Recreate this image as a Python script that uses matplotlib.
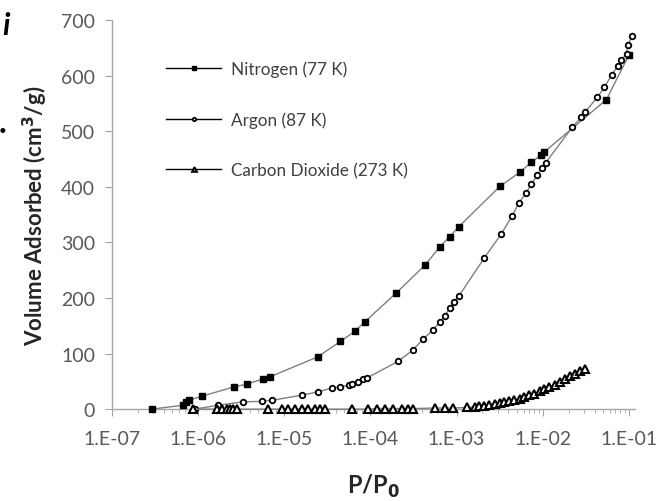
import numpy as np
import matplotlib.pyplot as plt
from matplotlib.ticker import LogLocator, FixedLocator

plt.rcParams['font.family'] = ['Lato', 'DejaVu Sans']

# Nitrogen (77 K)
n2_p = [2.9e-7, 6.7e-7, 7.2e-7, 7.8e-7, 1.1e-6, 2.6e-6, 3.7e-6, 5.6e-6, 6.8e-6,
        2.45e-5, 4.5e-5, 6.6e-5, 8.6e-5, 2.0e-4, 4.3e-4, 6.4e-4, 8.3e-4, 1.06e-3,
        3.2e-3, 5.4e-3, 7.4e-3, 9.5e-3, 1.03e-2, 5.5e-2, 1.0e-1]
n2_v = [0, 7, 13, 16, 23, 40, 45, 54, 58,
        94, 122, 140, 157, 209, 259, 292, 310, 328,
        401, 426, 444, 457, 462, 557, 637]

# Argon (87 K)
ar_p = [9.2e-7, 1.7e-6, 3.3e-6, 5.5e-6, 7.2e-6, 1.6e-5, 2.45e-5, 3.6e-5, 4.4e-5,
        5.6e-5, 6.2e-5, 7.1e-5, 8.2e-5, 9.1e-5, 2.1e-4, 3.1e-4, 4.1e-4, 5.3e-4,
        6.4e-4, 7.3e-4, 8.3e-4, 9.3e-4, 1.06e-3, 2.1e-3, 3.3e-3, 4.4e-3, 5.3e-3,
        6.4e-3, 7.4e-3, 8.7e-3, 9.7e-3, 1.08e-2, 2.2e-2, 2.8e-2, 3.1e-2, 4.3e-2,
        5.2e-2, 6.3e-2, 7.4e-2, 8.2e-2, 9.4e-2, 9.7e-2, 1.1e-1]
ar_v = [0, 7, 13, 14, 16, 25, 31, 38, 40,
        43, 45, 49, 54, 56, 86, 106, 126, 142,
        157, 167, 182, 193, 203, 272, 315, 347, 371,
        389, 405, 421, 434, 443, 507, 525, 534, 561,
        579, 601, 617, 628, 639, 655, 672]

# Carbon Dioxide (273 K)
co2_p = [8.7e-7, 1.65e-6, 1.89e-6, 2.16e-6, 2.34e-6, 2.53e-6, 2.82e-6, 6.5e-6,
         9.4e-6, 1.1e-5, 1.33e-5, 1.6e-5, 1.88e-5, 2.26e-5, 2.59e-5, 2.96e-5,
         6.1e-5, 9.3e-5, 1.19e-4, 1.47e-4, 1.82e-4, 2.31e-4, 2.72e-4, 3.1e-4,
         5.6e-4, 7.3e-4, 9.0e-4, 1.31e-3, 1.63e-3, 1.8e-3, 2.1e-3, 2.4e-3, 2.8e-3,
         3.2e-3, 3.6e-3, 4.1e-3, 4.7e-3, 5.4e-3, 6.1e-3, 7.0e-3, 8.0e-3, 9.2e-3,
         1.05e-2, 1.2e-2, 1.4e-2, 1.6e-2, 1.8e-2, 2.1e-2, 2.4e-2, 2.7e-2, 3.1e-2]
co2_v = [0, 0, 0, 0, 0, 0, 0, 0,
         0, 0, 0, 0, 0, 0, 0, 0,
         0, 0, 1, 1, 1, 1, 1, 1,
         2, 2, 2, 3, 4, 5, 6, 8, 9,
         11, 13, 15, 17, 19, 22, 25, 28, 32,
         36, 40, 44, 49, 54, 59, 64, 68, 73]

xticks = [1e-7, 1e-6, 1e-5, 1e-4, 1e-3, 1e-2, 1e-1]
xlabels = ['1.E-07', '1.E-06', '1.E-05', '1.E-04', '1.E-03', '1.E-02', '1.E-01']
yticks = [0, 100, 200, 300, 400, 500, 600, 700]

fig = plt.figure(figsize=(6.66, 5.02), dpi=100)
ax = fig.add_axes([0.168, 0.183, 0.785, 0.775])

line_c = '#7f7f7f'
ax.plot(n2_p, n2_v, color=line_c, lw=1.0, marker='s', ms=5, mfc='black',
        mec='black', label='Nitrogen (77 K)', clip_on=False, zorder=3)
ax.plot(ar_p, ar_v, color=line_c, lw=1.0, marker='o', ms=4, mfc='white',
        mec='black', mew=1.3, label='Argon (87 K)', clip_on=False, zorder=3)
ax.plot(co2_p, co2_v, color=line_c, lw=1.0, marker='^', ms=5.5, mfc='white',
        mec='black', mew=1.5, label='Carbon Dioxide (273 K)', clip_on=False, zorder=3)

ax.set_xscale('log')
ax.set_xlim(1e-7, 0.117)
ax.set_ylim(0, 700)
ax.xaxis.set_major_locator(FixedLocator(xticks))
ax.set_xticklabels(xlabels)
ax.xaxis.set_minor_locator(LogLocator(base=10, subs=np.arange(2, 10)))
ax.set_yticks(yticks)

for s in ['top', 'right']:
    ax.spines[s].set_visible(False)
for s in ['left', 'bottom']:
    ax.spines[s].set_color('#a6a6a6')
    ax.spines[s].set_linewidth(1.0)

ax.tick_params(axis='both', which='major', direction='out', length=5,
               color='#a6a6a6', labelcolor='#595959', labelsize=14)
ax.tick_params(axis='x', which='minor', direction='out', length=3, color='#a6a6a6')
ax.tick_params(axis='x', which='major', pad=10)
ax.tick_params(axis='y', which='major', pad=7)

ax.set_xlabel('P/P$_\\mathbf{0}$', fontsize=17, fontweight='bold', color='#262626', labelpad=18)
ax.set_ylabel('Volume Adsorbed (cm$^\\mathbf{3}$/g)', fontsize=16, fontweight='bold',
              color='#262626', labelpad=8)

leg = ax.legend(loc='upper left', bbox_to_anchor=(0.075, 0.935), frameon=False,
                fontsize=12.3, markerscale=0.6, handlelength=3.2, labelspacing=2.0,
                handletextpad=0.6)
for t in leg.get_texts():
    t.set_color('#404040')
for h in leg.legend_handles:
    h.set_color('black')
    h.set_markeredgecolor('black')

fig.text(0.004, 0.93, 'i', fontsize=22, fontweight='bold', style='italic', color='black')
fig.text(-0.002, 0.735, '.', fontsize=24, fontweight='bold', color='black')

fig.savefig('out.png', dpi=100)
